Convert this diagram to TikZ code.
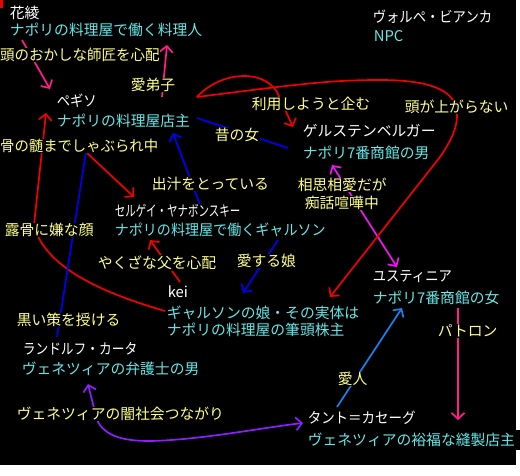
\documentclass[tikz,border=0pt]{standalone}
\usepackage{graphicx}
\usepackage{fontspec}
\setmainfont{Noto Sans CJK JP}
\usetikzlibrary{arrows.meta}
\pgfdeclarelayer{back}
\pgfdeclarelayer{mid}
\pgfsetlayers{back,mid,main}
\definecolor{tcyan}{RGB}{102,230,230}
\definecolor{tyellow}{RGB}{255,255,136}
\definecolor{lred}{RGB}{240,0,0}
\definecolor{lpink}{RGB}{255,30,140}
\definecolor{lmag}{RGB}{240,20,240}
\definecolor{lblue}{RGB}{0,0,240}
\definecolor{lsky}{RGB}{20,130,240}
\definecolor{lpurple}{RGB}{140,30,255}
\newcommand{\narrow}[2]{\scalebox{#1}[1]{#2}}
\begin{document}
\begin{tikzpicture}[x=1pt,y=-1pt,
  lbl/.style={inner sep=0.6pt, fill=black, anchor=west, font=\fontsize{14.8}{16}\selectfont},
  nm/.style={lbl,text=white},
  role/.style={lbl,text=tcyan},
  rel/.style={lbl,text=tyellow},
  conn/.style={line width=1.7pt},
  tipend/.style={-{Straight Barb[length=6pt,width=13pt]}},
  tipboth/.style={{Straight Barb[length=6pt,width=13pt]}-{Straight Barb[length=6pt,width=13pt]}}]
\useasboundingbox (0,0) rectangle (520,475);
\begin{pgfonlayer}{back}
  \fill[white] (0,0) rectangle (520,475);
  \fill[black] (0,0) rectangle (516,465);
  \fill[black] (500,430) rectangle (520,450);
  \fill[lred] (0,0) rectangle (3,8);
\end{pgfonlayer}

% nodes
\node[nm]   (hanaaya)  at (9,13)   {花綾};
\node[role] (hanaR)    at (9,30)   {ナポリの料理屋で働く料理人};
\node[rel]  (r1)       at (-0.6,55) {\narrow{0.98}{頭のおかしな師匠を心配}};
\node[rel]  (r2)       at (130,85) {愛弟子};
\node[nm]   (pegiso)   at (56,101) {\narrow{0.9}{ペギソ}};
\node[role] (pegisoR)  at (56,121) {ナポリの料理屋店主};
\node[rel]  (r3)       at (-0.6,146) {\narrow{0.97}{骨の髄までしゃぶられ中}};
\node[nm]   (volpe)    at (372,17) {\narrow{0.9}{ヴォルペ・ビアンカ}};
\node[role] (volpeR)   at (373,36) {NPC};
\node[rel]  (r4)       at (251,104) {利用しようと企む};
\node[rel]  (r5)       at (404,107) {頭が上がらない};
\node[nm]   (gers)     at (302,131) {ゲルステンベルガー};
\node[role] (gersR)    at (302,153) {ナポリ7番商館の男};
\node[rel]  (r6)       at (214,135) {昔の女};
\node[rel]  (r7)       at (151,184) {出汁をとっている};
\node[nm]   (sergei)   at (114,211) {\narrow{0.71}{セルゲイ・ヤナボンスキー}};
\node[role] (sergeiR)  at (114,230) {\narrow{0.95}{ナポリの料理屋で働くギャルソン}};
\node[rel]  (r8)       at (4,230)  {露骨に嫌な顔};
\node[rel]  (r9)       at (97,263) {やくざな父を心配};
\node[rel]  (r10)      at (236,261) {愛する娘};
\node[nm]   (kei)      at (167,292) {kei};
\node[role] (keiR)     at (166,313) {ギャルソンの娘・その実体は};
\node[role] (keiR2)    at (166,330) {ナポリの料理屋の筆頭株主};
\node[rel]  (r11)      at (297,185) {相思相愛だが};
\node[rel]  (r12)      at (304,203) {痴話喧嘩中};
\node[nm]   (yust)     at (372,277) {\narrow{0.9}{ユスティニア}};
\node[role] (yustR)    at (372,298) {ナポリ7番商館の女};
\node[rel]  (r13)      at (16,320) {黒い策を授ける};
\node[nm]   (rand)     at (22,349) {\narrow{0.86}{ランドルフ・カータ}};
\node[role] (randR)    at (21,369) {ヴェネツィアの弁護士の男};
\node[rel]  (r14)      at (16,414) {ヴェネツィアの闇社会つながり};
\node[rel]  (r15)      at (437,331) {パトロン};
\node[rel]  (r16)      at (337,379) {愛人};
\node[nm]   (tant)     at (307,418) {\narrow{0.91}{タント＝カセーグ}};
\node[role] (tantR)    at (307,440) {ヴェネツィアの裕福な縫製店主};

% connector end points
\coordinate (a1s) at (22,40);   \coordinate (a1e) at (50,89);
\coordinate (a2s) at (162,97);  \coordinate (a2e) at (167,45);
\coordinate (a3s) at (332,165); \coordinate (a3e) at (397,267);
\coordinate (a4s) at (165,311); \coordinate (a4m) at (34,225); \coordinate (a4e) at (46,113);
\coordinate (a5s) at (87,153);  \coordinate (a5e) at (134,197);
\coordinate (pg)  at (197,97);
\coordinate (a6e) at (330,297);
\coordinate (a7m) at (277,92);  \coordinate (a7e) at (293,127);
\coordinate (b1s) at (197,118); \coordinate (b1e) at (288,148);
\coordinate (b2s) at (200,205); \coordinate (b2e) at (173,133);
\coordinate (b3s) at (86,152);  \coordinate (b3e) at (57,337);
\coordinate (b4s) at (278,240); \coordinate (b4e) at (243,293);
\coordinate (a8s) at (180,282); \coordinate (a8e) at (150,240);
\coordinate (s1s) at (337,407); \coordinate (s1e) at (402,308);
\coordinate (p1s) at (458,308); \coordinate (p1e) at (458,420);
\coordinate (v1s) at (88,384);  \coordinate (v1m) at (97,420); \coordinate (v1e) at (303,423);

\begin{pgfonlayer}{mid}
  \draw[conn,lpink,tipend] (a1s) -- (a1e);
  \draw[conn,lpink,tipend] (a2s) -- (a2e);
  \draw[conn,lmag,tipboth] (a3s) -- (a3e);
  \draw[conn,lred,tipend] (a4s) .. controls (110,295) and (45,270) .. (a4m) -- (a4e);
  \draw[conn,lred,tipend] (a5s) -- (a5e);
  \draw[conn,lred,tipend] (pg) .. controls (300,84) and (330,80) .. (380,80)
        .. controls (430,80) and (455,90) .. (457,112)
        .. controls (458,130) and (448,145) .. (440,157) -- (a6e);
  \draw[conn,lred,tipend] (pg) .. controls (220,72) and (262,68) .. (a7m) -- (a7e);
  \draw[conn,lblue] (b1s) -- (b1e);
  \draw[conn,lblue,tipend] (b2s) -- (b2e);
  \draw[conn,lblue] (b3s) -- (b3e);
  \draw[conn,lblue,tipend] (b4s) -- (b4e);
  \draw[conn,lred,tipend] (a8s) -- (a8e);
  \draw[conn,lsky,tipend] (s1s) -- (s1e);
  \draw[conn,lpink,tipend] (p1s) -- (p1e);
  \draw[conn,lpurple,tipboth] (v1s) -- (v1m) .. controls (105,437) and (125,441) .. (150,441)
        .. controls (200,440) and (260,428) .. (v1e);
\end{pgfonlayer}
\end{tikzpicture}
\end{document}
